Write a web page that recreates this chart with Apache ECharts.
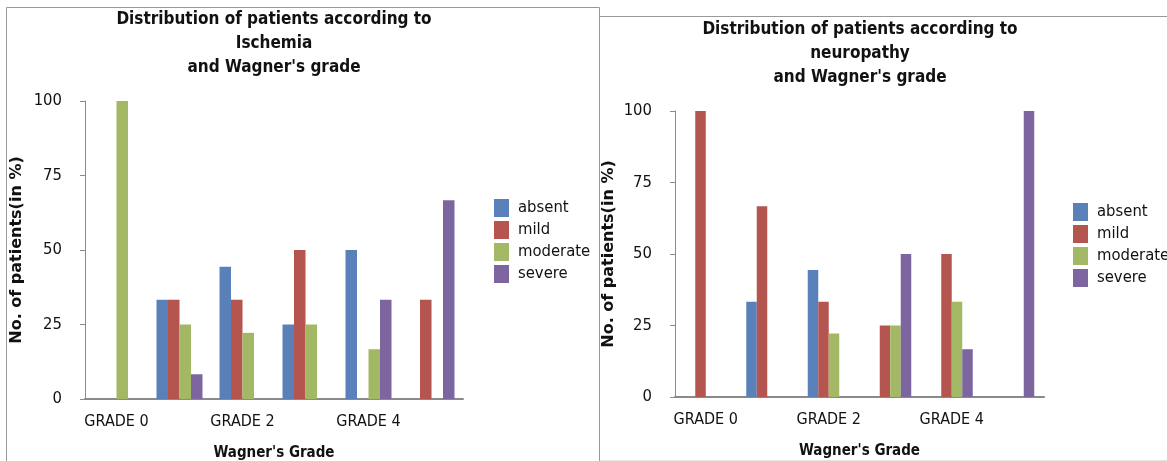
<!DOCTYPE html>
<html>
<head>
<meta charset="utf-8">
<script src="https://cdn.jsdelivr.net/npm/echarts@6/dist/echarts.min.js"></script>
<style>
html,body{margin:0;padding:0;background:#fff;}
#c{width:1167px;height:461px;}
</style>
</head>
<body>
<div id="c"></div>
<script>
const categories = ['GRADE 0', 'GRADE 1', 'GRADE 2', 'GRADE 3', 'GRADE 4', 'GRADE 5'];
const seriesNames = ['absent', 'mild', 'moderate', 'severe'];
const yTicks = [0, 25, 50, 75, 100];

// Chart 1: Ischemia
const ischAbsent   = [0, 33.3, 44.4, 25, 50, 0];
const ischMild     = [0, 33.3, 33.3, 50, 0, 33.3];
const ischModerate = [100, 25, 22.2, 25, 16.7, 0];
const ischSevere   = [0, 8.3, 0, 0, 33.3, 66.7];

// Chart 2: Neuropathy
const neuroAbsent   = [0, 33.3, 44.4, 0, 0, 0];
const neuroMild     = [100, 66.7, 33.3, 25, 50, 0];
const neuroModerate = [0, 0, 22.2, 25, 33.3, 0];
const neuroSevere   = [0, 0, 0, 50, 16.7, 100];

const title1 = "Distribution of patients according to\nIschemia\nand Wagner's grade";
const title2 = "Distribution of patients according to\nneuropathy\nand Wagner's grade";
const yName = 'No. of patients(in %)';
const xName = "Wagner's Grade";

const colors = ['#5A80B9', '#B5554F', '#A2B865', '#7D66A0'];
const NARROW = '"DejaVu Sans Condensed", sans-serif';

const chart = echarts.init(document.getElementById('c'), null, {renderer: 'canvas'});

function xAxisCfg(gi) {
  return {
    type: 'category', gridIndex: gi, data: categories,
    axisLine: {lineStyle: {color: '#8a8a8a', width: 2}},
    axisTick: {show: false},
    axisLabel: {interval: 1, color: '#111', fontFamily: NARROW, fontSize: 16, margin: 15},
    name: xName, nameLocation: 'middle', nameGap: 47,
    nameTextStyle: {color: '#111', fontFamily: NARROW, fontWeight: 'bold', fontSize: 15}
  };
}
function yAxisCfg(gi, gap) {
  return {
    type: 'value', gridIndex: gi, min: 0, max: 100, interval: 25,
    splitLine: {show: false},
    axisLine: {show: true, lineStyle: {color: '#8a8a8a', width: 1}},
    axisTick: {show: true, inside: false, length: 5, lineStyle: {color: '#8a8a8a'}},
    axisLabel: {color: '#111', fontFamily: NARROW, fontSize: 16.5, margin: 23},
    name: yName, nameLocation: 'middle', nameGap: gap, nameRotate: 90,
    nameTextStyle: {color: '#111', fontFamily: '"DejaVu Sans", sans-serif', fontWeight: 'bold', fontSize: 16}
  };
}
function legendCfg(left, top) {
  return {
    orient: 'vertical', left: left, top: top, padding: 0,
    icon: 'rect', itemWidth: 15, itemHeight: 18, itemGap: 4,
    data: seriesNames,
    selectedMode: false,
    textStyle: {color: '#111', fontFamily: NARROW, fontSize: 16.5, lineHeight: 18, padding: [0, 0, 0, 4]}
  };
}
function mkSeries(gi, arrs, bw) {
  return arrs.map((d, i) => ({
    name: seriesNames[i], type: 'bar', xAxisIndex: gi, yAxisIndex: gi,
    data: d, barWidth: bw, barGap: '0%',
    itemStyle: {color: colors[i]},
    emphasis: {disabled: true}
  }));
}

chart.setOption({
  animation: false,
  color: colors,
  title: [
    {text: title1, left: 274, top: 8, textAlign: 'center', padding: 0,
     textStyle: {fontFamily: NARROW, fontWeight: 'bold', fontSize: 17, lineHeight: 24, color: '#111'}},
    {text: title2, left: 860, top: 18, textAlign: 'center', padding: 0,
     textStyle: {fontFamily: NARROW, fontWeight: 'bold', fontSize: 17, lineHeight: 24, color: '#111'}}
  ],
  legend: [legendCfg(494, 199), legendCfg(1073, 203)],
  grid: [
    {left: 85, top: 101, width: 378, height: 298, containLabel: false, outerBoundsMode: 'none'},
    {left: 675, top: 111, width: 369, height: 286, containLabel: false, outerBoundsMode: 'none'}
  ],
  xAxis: [xAxisCfg(0), xAxisCfg(1)],
  yAxis: [yAxisCfg(0, 60), yAxisCfg(1, 58)],
  series: [].concat(
    mkSeries(0, [ischAbsent, ischMild, ischModerate, ischSevere], 11.5),
    mkSeries(1, [neuroAbsent, neuroMild, neuroModerate, neuroSevere], 10.5)
  ),
  graphic: [
    {type: 'polyline', silent: true, shape: {points: [[6.5, 461], [6.5, 7.5], [599.5, 7.5], [599.5, 461]]},
     style: {stroke: '#999', lineWidth: 1, fill: null}},
    {type: 'line', silent: true, shape: {x1: 599.5, y1: 16.5, x2: 1167, y2: 16.5},
     style: {stroke: '#999', lineWidth: 1}},
    {type: 'line', silent: true, shape: {x1: 600, y1: 460.5, x2: 1167, y2: 460.5},
     style: {stroke: '#e4e4e4', lineWidth: 1}}
  ]
});
</script>
</body>
</html>
